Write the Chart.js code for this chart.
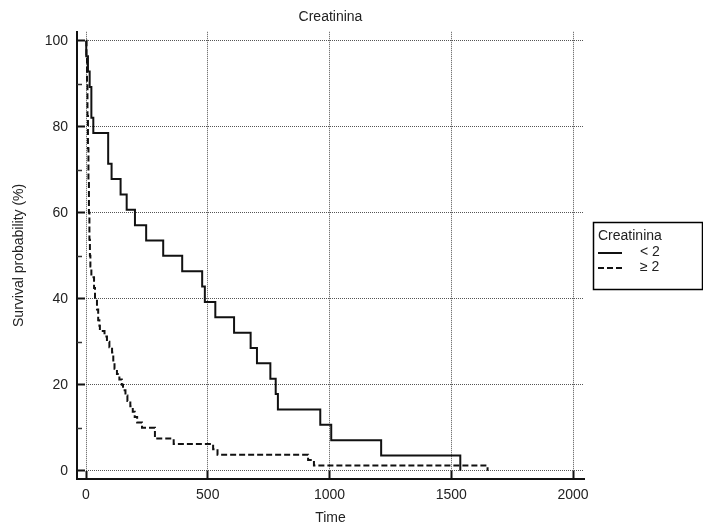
<!DOCTYPE html>
<html>
<head>
<meta charset="utf-8">
<title>Creatinina</title>
<script src="https://cdn.jsdelivr.net/npm/chart.js@4.4.1/dist/chart.umd.min.js"></script>
<style>
  body { margin: 0; background: #fff; }
  #km { display: block; }
</style>
</head>
<body>
<canvas id="km" width="703" height="531"></canvas>
<script>
// Kaplan-Meier steps: time of each event and survival (%) right after it
const lowTimes = [0, 1, 8, 15, 22, 30, 91, 105, 142, 167, 201, 247, 317, 395, 477, 488, 531, 608, 676, 702, 757, 779, 788, 962, 1007, 1212, 1537];
const lowSurv = [100, 96.43, 92.86, 89.29, 82.14, 78.57, 71.43, 67.86, 64.29, 60.71, 57.14, 53.57, 50, 46.43, 42.86, 39.29, 35.71, 32.14, 28.57, 25, 21.43, 17.86, 14.29, 10.71, 7.14, 3.57, 0];

const highTimes = [0, 2, 4, 6, 8, 10, 12, 14, 16, 18, 22, 33, 37, 45, 50, 55, 57, 76, 86, 96, 107, 112, 117, 127, 137, 147, 152, 162, 170, 182, 192, 200, 210, 230, 283, 360, 522, 540, 912, 936, 1649];
const highSurv = [100, 96.25, 90, 82.5, 75, 67.5, 60, 53.75, 50, 47.5, 45, 42.5, 40, 37.5, 35, 33.75, 32.5, 31.25, 30, 28.75, 27.5, 25, 23.75, 22.5, 21.25, 20, 18.75, 17.5, 16.25, 15, 13.75, 12.5, 11.25, 10, 7.5, 6.25, 5, 3.75, 2.5, 1.25, 0];

const groupLabels = ["< 2", "\u2265 2"];
const xTicks = [0, 500, 1000, 1500, 2000];
const yTicks = [0, 20, 40, 60, 80, 100];
const yMinor = [10, 30, 50, 70, 90];

const FONT = "'Liberation Sans', Arial, sans-serif";
const TEXT = "#222";

const toPoints = (xs, ys) => xs.map((x, i) => ({ x, y: ys[i] }));

// short inward ticks between the labelled ones on the y axis
const minorTicks = {
  id: "minorTicks",
  afterDraw(chart) {
    const { ctx, chartArea } = chart;
    const y = chart.scales.y;
    ctx.save();
    ctx.strokeStyle = "#333";
    ctx.lineWidth = 1.5;
    yMinor.forEach((v) => {
      const py = Math.round(y.getPixelForValue(v)) + 0.5;
      ctx.beginPath();
      ctx.moveTo(chartArea.left, py);
      ctx.lineTo(chartArea.left + 5, py);
      ctx.stroke();
    });
    ctx.restore();
  },
};

// boxed legend to the right of the plot
const boxLegend = {
  id: "boxLegend",
  afterDraw(chart) {
    const ctx = chart.ctx;
    const left = 593, top = 222, w = 109, h = 67;
    ctx.save();
    ctx.strokeStyle = "#000";
    ctx.lineWidth = 1.5;
    ctx.strokeRect(left + 0.5, top + 0.5, w, h);

    ctx.fillStyle = TEXT;
    ctx.font = "14px " + FONT;
    ctx.textBaseline = "middle";
    ctx.fillText("Creatinina", left + 5, top + 14);

    chart.data.datasets.forEach((ds, i) => {
      const cy = top + 30 + i * 15;
      ctx.strokeStyle = ds.borderColor;
      ctx.lineWidth = ds.borderWidth;
      ctx.setLineDash(ds.borderDash || []);
      ctx.beginPath();
      ctx.moveTo(left + 5, cy + 1);
      ctx.lineTo(left + 29, cy + 1);
      ctx.stroke();
      ctx.setLineDash([]);
      ctx.fillText(ds.label, left + 47, cy);
    });
    ctx.restore();
  },
};

const gridOpts = {
  color: "#555",
  lineWidth: 1,
  drawTicks: true,
  tickLength: -8,
  tickColor: "#111",
  tickWidth: 2,
  tickBorderDash: [],
};

new Chart(document.getElementById("km"), {
  type: "line",
  data: {
    datasets: [
      {
        label: groupLabels[0],
        data: toPoints(lowTimes, lowSurv),
        borderColor: "#111",
        borderWidth: 2,
        stepped: "before",
        pointRadius: 0,
        fill: false,
      },
      {
        label: groupLabels[1],
        data: toPoints(highTimes, highSurv),
        borderColor: "#111",
        borderWidth: 2,
        borderDash: [6, 3],
        stepped: "before",
        pointRadius: 0,
        fill: false,
      },
    ],
  },
  options: {
    responsive: false,
    animation: false,
    devicePixelRatio: 1,
    layout: { padding: { left: 0, right: 119, top: 0, bottom: 0 } },
    plugins: {
      legend: { display: false },
      tooltip: { enabled: false },
      title: {
        display: true,
        text: "Creatinina",
        fullSize: false,
        color: TEXT,
        font: { family: FONT, size: 14, weight: "normal" },
        padding: { top: 9, bottom: 6 },
      },
    },
    scales: {
      x: {
        type: "linear",
        min: -37,
        max: 2045,
        afterBuildTicks: (scale) => {
          scale.ticks = xTicks.map((v) => ({ value: v }));
        },
        afterFit: (scale) => {
          scale.height = 52;
        },
        ticks: {
          color: TEXT,
          padding: 16,
          maxRotation: 0,
          font: { family: FONT, size: 14 },
          callback: (v) => String(v),
        },
        grid: gridOpts,
        border: { display: true, color: "#111", width: 2, dash: [1, 1] },
        title: {
          display: true,
          text: "Time",
          color: TEXT,
          font: { family: FONT, size: 14 },
          padding: { top: 0, bottom: 4 },
        },
      },
      y: {
        type: "linear",
        min: -1.9,
        max: 102.1,
        afterBuildTicks: (scale) => {
          scale.ticks = yTicks.map((v) => ({ value: v }));
        },
        afterFit: (scale) => {
          scale.width = 77;
        },
        ticks: {
          color: TEXT,
          padding: 17,
          font: { family: FONT, size: 14 },
          callback: (v) => String(v),
        },
        grid: gridOpts,
        border: { display: true, color: "#111", width: 2, dash: [1, 1] },
        title: {
          display: true,
          text: "Survival probability (%)",
          color: TEXT,
          font: { family: FONT, size: 14 },
          padding: { top: 11, bottom: 0 },
        },
      },
    },
  },
  plugins: [minorTicks, boxLegend],
});
</script>
</body>
</html>
